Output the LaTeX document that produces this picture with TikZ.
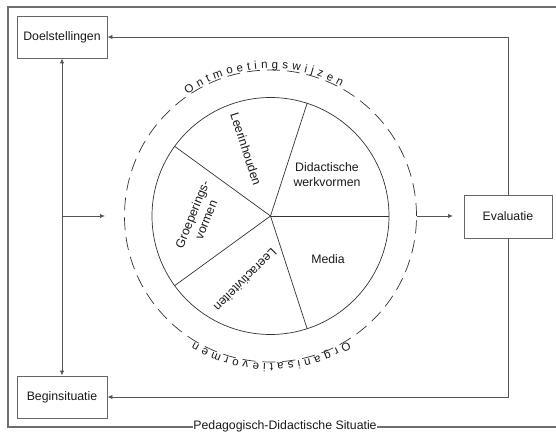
\documentclass[tikz,border=0pt]{standalone}
\usepackage{fontspec}
\setmainfont{Liberation Sans}
\usetikzlibrary{arrows.meta,calc}
\definecolor{framegray}{HTML}{6E6E6E}
\definecolor{linegray}{HTML}{555555}
\definecolor{boxgray}{HTML}{666666}
\definecolor{circgray}{HTML}{333333}
\definecolor{txt}{HTML}{1A1A1A}
\newcommand{\mainsz}{\fontsize{12.3}{14.8}\selectfont}
\newcommand{\ringsz}{\fontsize{11.5}{13}\selectfont}
\begin{document}
\begin{tikzpicture}[x=1pt,y=1pt,
  box/.style={draw=boxgray, line width=0.9pt, fill=white, minimum width=90pt, minimum height=42pt, inner sep=0pt, font=\mainsz, text=txt},
  conn/.style={draw=linegray, line width=0.9pt},
  tip/.tip={Latex[length=5pt,width=4.5pt]},
  arr/.style={conn, -tip},
  sector/.style={draw=circgray, line width=0.7pt},
  lbl/.style={font=\mainsz, text=txt, inner sep=0pt},
  ringlbl/.style={font=\ringsz, text=txt, inner sep=0pt, anchor=base}
]
\clip (0,0) rectangle (556,431);
\fill[white] (0,0) rectangle (556,431);

\coordinate (c) at (270.5,215);

% outer frame
\coordinate (fr1) at (570,424);
\coordinate (fr2) at (8,424);
\coordinate (fr3) at (8,4);
\coordinate (fr4) at (570,4);
\draw[framegray, line width=1.3pt] (fr1) -- (fr2) -- (fr3) -- (fr4);
\node[lbl, fill=white, inner xsep=0.6pt, anchor=base] (ped) at (285,1.5) {Pedagogisch-Didactische Situatie};

% boxes
\node[box] (doel) at (62,394) {Doelstellingen};
\node[box] (begin) at (62,34) {Beginsituatie};
\node[box, minimum width=88pt, minimum height=43pt] (eval) at (508,214.5) {Evaluatie};

% loops
\draw[arr] (eval.north) |- (doel.east);
\draw[arr] (eval.south) |- (begin.east);
\draw[conn, tip-tip] (doel.south) -- (begin.north);
\coordinate (br) at (62,215);
\coordinate (brend) at (105,215);
\draw[arr] (br) -- (brend);

% wheel
\node[circle, sector, minimum size=237pt, inner sep=0pt] (wheel) at (c) {};
\node[circle, draw=circgray, line width=0.7pt, dash pattern=on 13pt off 7pt, minimum size=292pt, inner sep=0pt] (ring) at (c) {};
\foreach \a in {0,72,144,216,288} \draw[sector] (c) -- (wheel.\a);

\coordinate (evin) at (453,215);
\draw[arr] (ring.east) -- (evin);

% sector labels
\node[lbl, align=center] (dw) at (327,256) {Didactische\\werkvormen};
\node[lbl] (media) at (328,172) {Media};
\node[lbl, rotate=-72] (leer) at (246,282) {Leerinhouden};
\node[lbl, rotate=68, align=center] (groep) at (199,214) {Groeperings-\\vormen};
\node[lbl, rotate=-135] (act) at (245.5,151) {Leeractiviteiten};

% ring texts
\foreach \ch/\a [count=\i] in {O/122.5, n/117.95, t/114.52, m/110.47, o/105.80, e/101.76, t/98.33, i/95.65, n/92.35, g/88.30, s/84.38, w/80.08, i/76.41, j/73.85, z/70.68, e/66.75, n/62.70}
  \node[ringlbl, rotate=\a-90] (top\i) at ($(c)+(\a:147.5)$) {\ch};
\foreach \ch/\a [count=\i] in {O/-60.1, r/-64.15, g/-67.70, a/-71.75, n/-75.80, i/-79.10, s/-82.27, a/-86.20, t/-89.63, i/-92.31, e/-95.61, v/-99.53, o/-103.46, r/-107.01, m/-111.18, e/-115.85, n/-119.90}
  \node[ringlbl, rotate=\a-90] (bot\i) at ($(c)+(\a:147.5)$) {\ch};
\end{tikzpicture}
\end{document}
